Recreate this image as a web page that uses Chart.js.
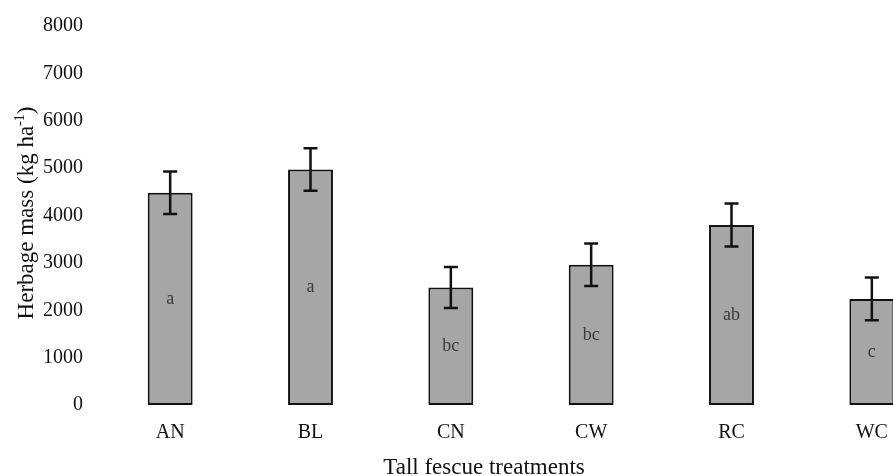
<!DOCTYPE html>
<html lang="en">
<head>
  <meta charset="UTF-8">
  <title>Herbage mass - Tall fescue treatments</title>
  <script src="https://cdn.jsdelivr.net/npm/chart.js"></script>
  <style>
    html, body { margin: 0; padding: 0; background: #fff; overflow: hidden; }
    /* the original figure is cut on the right, so the chart is wider than the window */
    #wrap { width: 942px; height: 476px; }
  </style>
</head>
<body>
<div id="wrap"><canvas id="massChart"></canvas></div>

<script>
const treatments = ['AN', 'BL', 'CN', 'CW', 'RC', 'WC'];
const herbageMass = [4480, 4970, 2480, 2960, 3800, 2240];
const stdError = [450, 450, 435, 450, 455, 450];
const letters = ['a', 'a', 'bc', 'bc', 'ab', 'c'];
const yMin = 0;
const yMax = 8000;
const yStep = 1000;

const serif = "'Liberation Serif', 'Times New Roman', serif";

// error bars + significance letters
const errorBars = {
  id: 'errorBars',
  afterDatasetsDraw(chart) {
    const ctx = chart.ctx;
    const meta = chart.getDatasetMeta(0);
    const y = chart.scales.y;
    ctx.save();
    meta.data.forEach((bar, i) => {
      const top = y.getPixelForValue(herbageMass[i] + stdError[i]);
      const bot = y.getPixelForValue(herbageMass[i] - stdError[i]);
      ctx.strokeStyle = '#111';
      ctx.lineWidth = 2.5;
      ctx.beginPath();
      ctx.moveTo(bar.x, top); ctx.lineTo(bar.x, bot);
      ctx.moveTo(bar.x - 7, top); ctx.lineTo(bar.x + 7, top);
      ctx.moveTo(bar.x - 7, bot); ctx.lineTo(bar.x + 7, bot);
      ctx.stroke();

      // letter in the middle of the bar
      const mid = (y.getPixelForValue(herbageMass[i]) + y.getPixelForValue(0)) / 2;
      ctx.fillStyle = '#3a3a3a';
      ctx.font = '18px ' + serif;
      ctx.textAlign = 'center';
      ctx.textBaseline = 'middle';
      ctx.fillText(letters[i], bar.x, mid);
    });
    ctx.restore();
  }
};

// axis titles (y title needs a superscript)
const axisTitles = {
  id: 'axisTitles',
  afterDraw(chart) {
    const ctx = chart.ctx;
    ctx.save();
    ctx.fillStyle = '#111';
    ctx.textBaseline = 'alphabetic';

    ctx.font = '23px ' + serif;
    ctx.textAlign = 'center';
    ctx.fillText('Tall fescue treatments', 484, 474);

    const main = 'Herbage mass (kg ha';
    const sup = '-1';
    const close = ')';
    const bigFont = '23px ' + serif;
    const smallFont = '14px ' + serif;
    ctx.font = bigFont;
    const wMain = ctx.measureText(main).width;
    const wClose = ctx.measureText(close).width;
    ctx.font = smallFont;
    const wSup = ctx.measureText(sup).width;
    const total = wMain + wSup + wClose;

    ctx.translate(33, 213);
    ctx.rotate(-Math.PI / 2);
    ctx.textAlign = 'left';
    let x = -total / 2;
    ctx.font = bigFont;
    ctx.fillText(main, x, 0);
    x += wMain;
    ctx.font = smallFont;
    ctx.fillText(sup, x, -9);
    x += wSup;
    ctx.font = bigFont;
    ctx.fillText(close, x, 0);
    ctx.restore();
  }
};

const ctx = document.getElementById('massChart').getContext('2d');
new Chart(ctx, {
  type: 'bar',
  data: {
    labels: treatments,
    datasets: [{
      label: 'Herbage mass',
      data: herbageMass,
      backgroundColor: '#a6a6a6',
      borderColor: '#111',
      borderWidth: 2,
      borderSkipped: false,
      barPercentage: 0.32,
      categoryPercentage: 1
    }]
  },
  options: {
    responsive: true,
    maintainAspectRatio: false,
    animation: false,
    layout: {
      padding: { left: 26, right: 0, top: 3, bottom: 15 }
    },
    scales: {
      x: {
        grid: { display: false, drawTicks: false },
        border: { display: false },
        ticks: {
          color: '#111',
          padding: 16,
          font: { family: serif, size: 20 }
        }
      },
      y: {
        min: yMin,
        max: yMax,
        grid: { display: false, drawTicks: false },
        border: { display: false },
        ticks: {
          stepSize: yStep,
          color: '#111',
          padding: 17,
          font: { family: serif, size: 20, lineHeight: 0.9 },
          callback: (v) => String(v)
        }
      }
    },
    plugins: {
      legend: { display: false },
      tooltip: { enabled: false }
    }
  },
  plugins: [errorBars, axisTitles]
});
</script>
</body>
</html>
